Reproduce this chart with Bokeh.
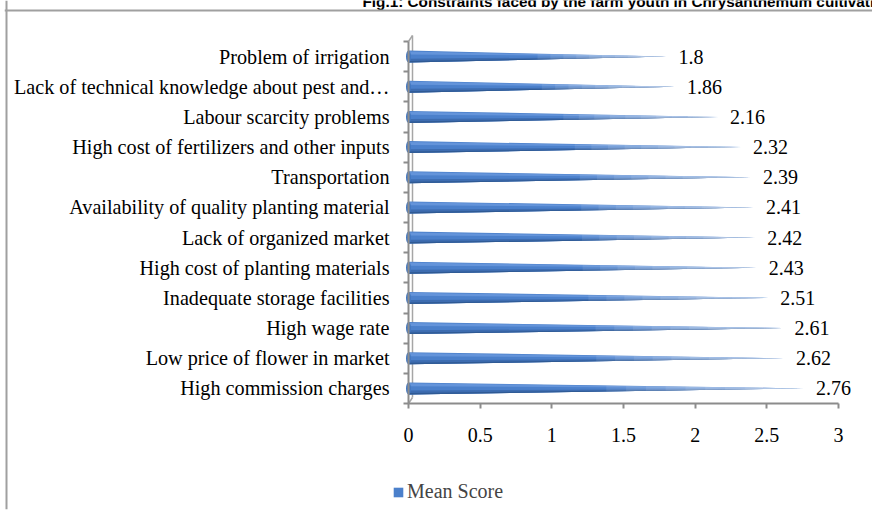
from bokeh.plotting import figure
from bokeh.models import (FixedTicker, Range1d, Label, Legend, LegendItem, Span,
                          ColumnDataSource)
from bokeh.embed import file_html
from bokeh.resources import INLINE
from bokeh.core.properties import value

categories = [
    "High commission charges",
    "Low price of flower in market",
    "High wage rate",
    "Inadequate storage facilities",
    "High cost of planting materials",
    "Lack of organized market",
    "Availability of quality planting material",
    "Transportation",
    "High cost of fertilizers and other inputs",
    "Labour scarcity problems",
    "Lack of technical knowledge about pest and\u2026",
    "Problem of irrigation",
]
mean_scores = [2.76, 2.62, 2.61, 2.51, 2.43, 2.42, 2.41, 2.39, 2.32, 2.16, 1.86, 1.8]
x_ticks = [0, 0.5, 1, 1.5, 2, 2.5, 3]
x_tick_labels = ["0", "0.5", "1", "1.5", "2", "2.5", "3"]
series_name = "Mean Score"
title_text = "Fig.1: Constraints faced by the farm youth in Chrysanthemum cultivation"

SERIF = "Liberation Serif"
n = len(categories)
centers = [i + 0.5 for i in range(n)]

# ---- layout (pixels) ----
W, H = 872, 517
FL, FR, FT, FB = 4, 872, 0, 509          # plot frame edges on the canvas
X0PX, X3PX = 408, 838                    # value axis: 0 and 3
Y0PX, YNPX = 403, 41                     # category axis: bottom and top
sx = (X3PX - X0PX) / 3.0
sy = (Y0PX - YNPX) / float(n)
x_range = Range1d((FL - X0PX) / sx, (FR - X0PX) / sx)
y_range = Range1d(-(FB - Y0PX) / sy, n + (YNPX - FT) / sy)

p = figure(width=W, height=H, x_range=x_range, y_range=y_range, title=None,
           output_backend="svg", toolbar_location=None,
           min_border_left=FL, min_border_right=W - FR, min_border_top=FT,
           min_border_bottom=H - FB)
p.styles = {"margin": "0px"}
p.outline_line_color = None
p.background_fill_color = "white"
p.border_fill_color = "white"
p.xgrid.visible = False
p.ygrid.visible = False

AX = "#8c8c8c"

# back wall of the 3-D plot area
dx, dy = 4 / sx, 6 / sy
p.segment(x0=[0, 0, dx], y0=[0, n, dy], x1=[dx, dx, dx], y1=[dy, n + dy, n + dy],
          line_color="#a6a6a6", line_width=1.5)

h = 0.2  # half thickness of the cone base, in category units


def cone(f_top, f_bot, x0_frac=0.0):
    xs, ys = [], []
    for c, v in zip(centers, mean_scores):
        x0 = v * x0_frac
        xs.append([x0, v, x0])
        ys.append([c + h * f_top * (1 - x0_frac), c, c + h * f_bot * (1 - x0_frac)])
    return ColumnDataSource(dict(xs=xs, ys=ys))


main = p.patches("xs", "ys", source=cone(1.0, -1.0), fill_color="#4b80cb", line_color=None)
p.patches("xs", "ys", source=cone(-0.35, -1.0), fill_color="#3d6cb0", line_color=None)
p.patches("xs", "ys", source=cone(-0.75, -1.0), fill_color="#2f5a94", line_color=None)
p.patches("xs", "ys", source=cone(0.85, 0.35), fill_color="#6494da", line_color=None)
for k in range(10):
    p.patches("xs", "ys", source=cone(1.0, -1.0, 0.5 + 0.05 * k), fill_color="white",
              fill_alpha=0.09, line_color=None)
p.ellipse(x=[0] * n, y=centers, width=5, width_units="screen", height=2 * h,
          fill_color="#4277c0", line_color=None)

# value labels
p.text(x=mean_scores, y=centers, text=[f"{v:g}" for v in mean_scores], x_offset=12,
       text_baseline="middle", text_align="left", text_font=value(SERIF),
       text_font_size="20px", text_color="#000000")

# category labels
p.text(x=[0] * n, y=centers, text=categories, x_offset=-19,
       text_baseline="middle", text_align="right", text_font=value(SERIF),
       text_font_size="20.2px", text_color="#000000")

# value-axis tick labels
p.text(x=x_ticks, y=[0] * len(x_ticks), text=x_tick_labels, y_offset=31,
       text_baseline="middle", text_align="center", text_font=value(SERIF),
       text_font_size="20px", text_color="#000000")

xa = p.xaxis[0]
xa.fixed_location = 0
xa.bounds = (0, 3)
xa.ticker = FixedTicker(ticks=x_ticks)
xa.major_label_overrides = {t: "" for t in x_ticks}
xa.major_label_text_font_size = "0px"
xa.major_label_standoff = 0
xa.major_tick_out = 5
xa.major_tick_in = 0
xa.minor_tick_out = 0
xa.axis_line_color = AX
xa.axis_line_width = 2
xa.major_tick_line_color = AX
xa.major_tick_line_width = 2

ya = p.yaxis[0]
ya.fixed_location = 0
ya.bounds = (0, n)
ya.ticker = FixedTicker(ticks=[], minor_ticks=list(range(n + 1)))
ya.major_label_text_font_size = "0px"
ya.major_label_standoff = 0
ya.major_tick_out = 0
ya.major_tick_in = 0
ya.minor_tick_out = 5
ya.minor_tick_in = 0
ya.minor_tick_line_color = AX
ya.minor_tick_line_width = 2
ya.axis_line_color = AX
ya.axis_line_width = 2

# legend
legend = Legend(items=[LegendItem(label=series_name, renderers=[main])],
                location=(392 - FL, FB - 503), orientation="horizontal",
                border_line_color=None, background_fill_alpha=0,
                glyph_width=12, glyph_height=12, label_standoff=3, label_height=20,
                padding=0, margin=0, spacing=0,
                label_text_font=SERIF, label_text_font_size="20px")
p.add_layout(legend, "center")

# title (cut at the top and right edge as in the source image)
p.add_layout(Label(x=362 - FL, y=FB - 1, x_units="screen", y_units="screen",
                   text=title_text, text_font="Liberation Sans",
                   text_font_style="bold", text_font_size="15.3px",
                   text_baseline="alphabetic", text_color="#000000"))

# chart-area border
p.add_layout(Span(location=6, dimension="height", location_units="canvas",
                  line_color="#a0a0a0", line_width=2))
p.add_layout(Span(location=10, dimension="width", location_units="canvas",
                  line_color="#a0a0a0", line_width=2))

open("out.html", "w").write(file_html(p, INLINE))
